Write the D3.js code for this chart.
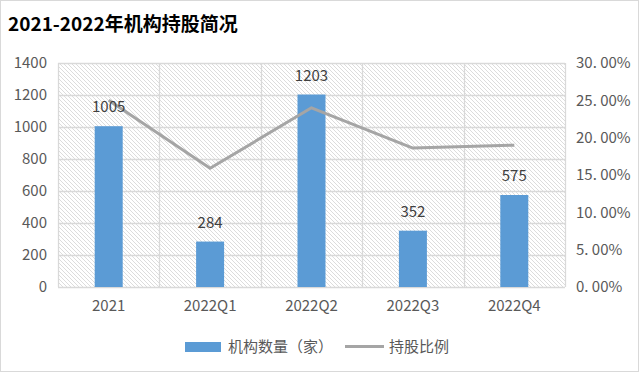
<!DOCTYPE html>
<html><head><meta charset="utf-8">
<script src="https://cdn.jsdelivr.net/npm/d3@7/dist/d3.min.js"></script>
<style>body{margin:0;background:#fff}svg{display:block}</style>
</head><body>
<svg id="c" width="640" height="373"></svg>
<script>
const categories = ["2021","2022Q1","2022Q2","2022Q3","2022Q4"];
const counts = [1005,284,1203,352,575];
const ratios = [0.250,0.159,0.240,0.186,0.190];
const leftTicks = [0,200,400,600,800,1000,1200,1400];
const rightTicks = [0,0.05,0.10,0.15,0.20,0.25,0.30];
const title = "2021-2022年机构持股简况";
const seriesNames = ["机构数量（家）","持股比例"];

const svg = d3.select("#c");
const font = "'Microsoft YaHei','Noto Sans CJK SC','DejaVu Sans',sans-serif";
const L=58, R=565, T=63, B=287;

svg.append("rect").attr("x",0.5).attr("y",0.5).attr("width",638).attr("height",371)
  .attr("fill","#fff").attr("stroke","#d9d9d9");

const defs = svg.append("defs");
const pat = defs.append("pattern").attr("id","hatch").attr("patternUnits","userSpaceOnUse")
  .attr("width",4).attr("height",4);
pat.append("rect").attr("width",4).attr("height",4).attr("fill","#fff");
pat.append("path").attr("d","M-1,-1 L5,5 M-1,3 L1,5 M3,-1 L5,1").attr("stroke","#d6d6d6").attr("stroke-width",0.85);

svg.append("text").attr("x",8).attr("y",31).text(title)
  .attr("font-family",font).attr("font-size",19).attr("font-weight","bold").attr("fill","#000");

const x = d3.scaleBand().domain(categories).range([L,R]);
const yL = d3.scaleLinear().domain([0,1400]).range([B,T]);
const yR = d3.scaleLinear().domain([0,0.30]).range([B,T]);

svg.append("rect").attr("x",L).attr("y",T).attr("width",R-L).attr("height",B-T).attr("fill","url(#hatch)");

const grid = svg.append("g");
leftTicks.forEach(t=>{
  grid.append("line").attr("x1",L).attr("x2",R).attr("y1",Math.round(yL(t))+0.5).attr("y2",Math.round(yL(t))+0.5)
    .attr("stroke","#d9d9d9").attr("stroke-width",1.3);
});
const bounds = categories.map(c=>x(c)).concat([R]);
bounds.forEach(b=>{
  grid.append("line").attr("x1",Math.round(b)+0.5).attr("x2",Math.round(b)+0.5).attr("y1",T).attr("y2",B)
    .attr("stroke","#d9d9d9").attr("stroke-width",1.3);
});

const axL = svg.append("g").attr("transform",`translate(${L-11},0)`)
  .call(d3.axisLeft(yL).tickValues(leftTicks).tickSize(0).tickPadding(0).tickFormat(d3.format("d")));
axL.select(".domain").remove();
axL.selectAll("text").attr("font-family",font).attr("font-size",15).attr("fill","#595959");

const axR = svg.append("g").attr("transform",`translate(${R+11},0)`)
  .call(d3.axisRight(yR).tickValues(rightTicks).tickSize(0).tickPadding(0)
    .tickFormat(d=>d3.format(".2%")(d).replace(".",". ")));
axR.select(".domain").remove();
axR.selectAll("text").attr("font-family",font).attr("font-size",15).attr("fill","#595959");

const axB = svg.append("g").attr("transform",`translate(0,${B+13})`)
  .call(d3.axisBottom(x).tickSize(0).tickPadding(0));
axB.select(".domain").remove();
axB.selectAll("text").attr("font-family",font).attr("font-size",15).attr("fill","#595959").attr("dy","0.71em");

const bw = 28;
svg.append("g").selectAll("rect").data(counts).join("rect")
  .attr("x",(d,i)=>x(categories[i])+x.bandwidth()/2-bw/2)
  .attr("width",bw)
  .attr("y",d=>yL(d)).attr("height",d=>B-yL(d))
  .attr("fill","#5b9bd5");

const line = d3.line().x((d,i)=>x(categories[i])+x.bandwidth()/2).y(d=>yR(d));
svg.append("path").datum(ratios).attr("d",line).attr("fill","none")
  .attr("stroke","#a5a5a5").attr("stroke-width",3).attr("stroke-linejoin","round");

svg.append("g").selectAll("text").data(counts).join("text")
  .attr("x",(d,i)=>x(categories[i])+x.bandwidth()/2)
  .attr("y",d=>yL(d)-14)
  .attr("text-anchor","middle").text(d=>d)
  .attr("font-family",font).attr("font-size",15).attr("fill","#404040");

const lg = svg.append("g");
lg.append("rect").attr("x",185).attr("y",342).attr("width",36).attr("height",10).attr("fill","#5b9bd5");
lg.append("text").attr("x",228).attr("y",352).text(seriesNames[0])
  .attr("font-family",font).attr("font-size",15).attr("fill","#595959");
lg.append("line").attr("x1",345).attr("x2",384).attr("y1",346.5).attr("y2",346.5)
  .attr("stroke","#a5a5a5").attr("stroke-width",3);
lg.append("text").attr("x",389).attr("y",352).text(seriesNames[1])
  .attr("font-family",font).attr("font-size",15).attr("fill","#595959");
</script>
</body></html>
